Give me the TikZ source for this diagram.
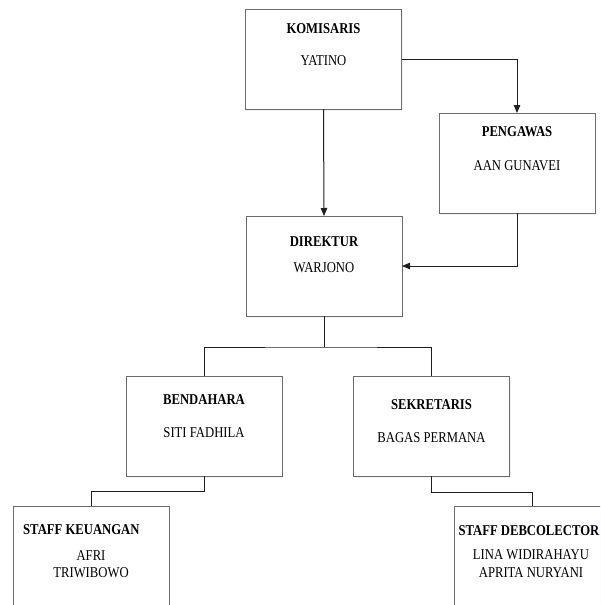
\documentclass[tikz,border=0pt]{standalone}
\usepackage{fontspec}
\setmainfont{Liberation Serif}[FakeStretch=0.845]
\usetikzlibrary{arrows.meta,shadows}

\tikzset{
  unit/.style={draw=black!58, line width=0.9pt, fill=white,
    minimum width=156pt, minimum height=100pt, inner sep=0pt, outer sep=0pt,
    drop shadow={shadow xshift=1pt, shadow yshift=-1.5pt, fill=blue!5, opacity=1}},
  role/.style={font=\fontsize{15}{17}\selectfont\bfseries, inner sep=0pt, anchor=base},
  person/.style={font=\fontsize{15}{17}\selectfont, inner sep=0pt, anchor=base},
  link/.style={draw=black!88, line width=1pt},
  arrow/.style={link, -{Triangle[length=8pt, width=6.5pt]}}
}

\begin{document}
\begin{tikzpicture}[x=1pt, y=-1pt]
  \useasboundingbox (0,0) rectangle (600,605);
  \clip (0,0) rectangle (600,605);

  % boxes
  \node[unit] (kom)  at (323.5,59)  {};
  \node[unit] (peng) at (517,163)   {};
  \node[unit] (dir)  at (324,266)   {};
  \node[unit] (bend) at (204,426)   {};
  \node[unit] (sek)  at (431.5,426) {};
  \node[unit] (keu)  at (91,556)    {};
  \node[unit] (debt) at (532,556)   {};

  % labels
  \node[role]   (komR)  at (323.5,33) {KOMISARIS};
  \node[person] (komP)  at (323.5,65) {YATINO};
  \node[role]   (pengR) at (517,136)  {PENGAWAS};
  \node[person] (pengP) at (517,170)  {AAN GUNAVEI};
  \node[role]   (dirR)  at (324,246)  {DIREKTUR};
  \node[person] (dirP)  at (324,272)  {WARJONO};
  \node[role]   (bendR) at (204,404)  {BENDAHARA};
  \node[person] (bendP) at (204,437)  {SITI FADHILA};
  \node[role]   (sekR)  at (431.5,409) {SEKRETARIS};
  \node[person] (sekP)  at (431.5,442) {BAGAS PERMANA};
  \node[role, anchor=base west] (keuR) at (23,534) {STAFF KEUANGAN};
  \node[person] (keuP1) at (91,560)  {AFRI};
  \node[person] (keuP2) at (91,577)  {TRIWIBOWO};
  \node[role, anchor=base east] (debtR) at (599.5,535) {STAFF DEBCOLECTOR};
  \node[person] (debtP1) at (531,559) {LINA WIDIRAHAYU};
  \node[person] (debtP2) at (531,577) {APRITA NURYANI};

  % reporting lines
  \draw[arrow] (kom.south) -- (dir.north);
  \draw[arrow] (kom.east) -| (peng.north);
  \draw[arrow] (peng.south) |- (dir.east);

  \coordinate (bus) at (324,347);
  \draw[link] (dir.south) -- (bus);
  \draw[link] (bend.north) |- (bus) -| (sek.north);

  \draw[link] (bend.south) -- ++(0,15) -| (keu.north);
  \draw[link] (sek.south) -- ++(0,16) -| (debt.north);
\end{tikzpicture}
\end{document}
